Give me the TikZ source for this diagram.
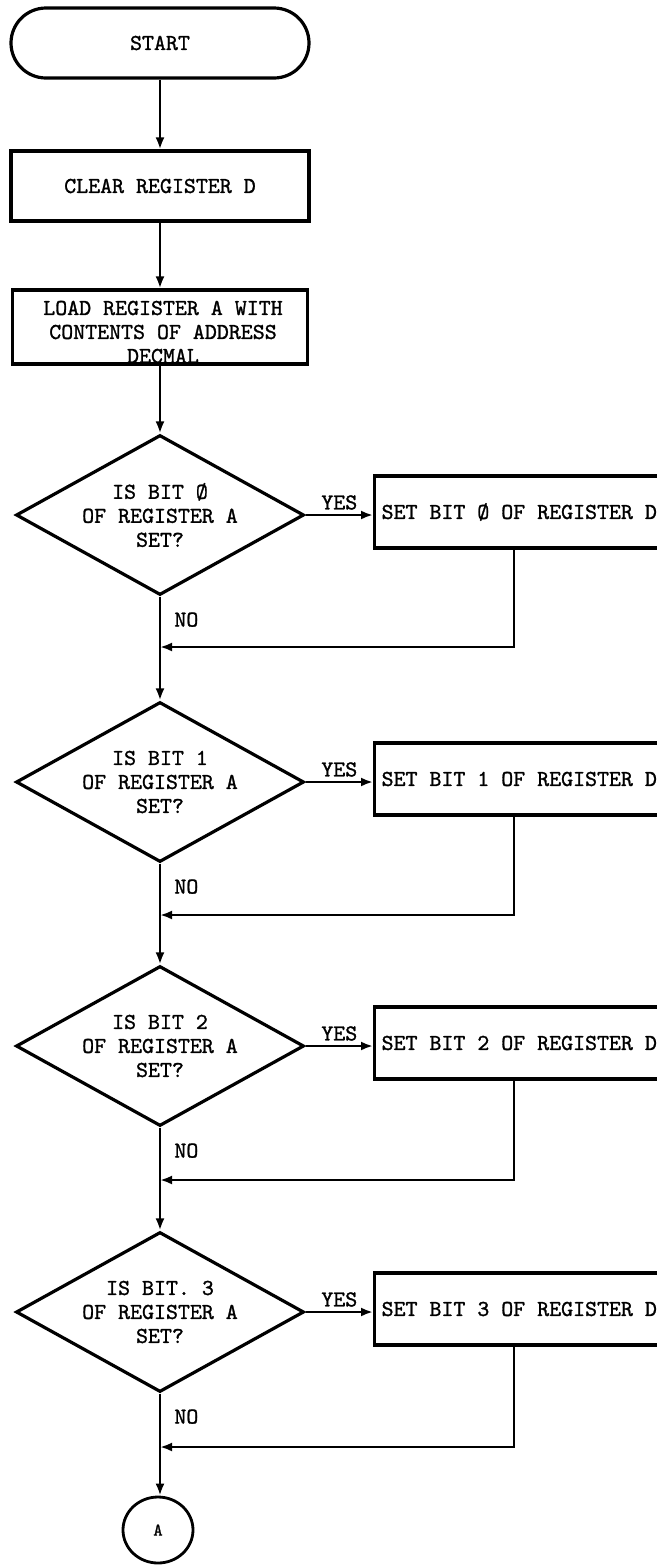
\documentclass[tikz,border=0pt]{standalone}
\usepackage{fontspec}
\newfontfamily\typewriter{lmmono10-regular.otf}[FakeBold=1.2]
\usepackage{tikz}
\usetikzlibrary{calc, shapes.geometric, arrows.meta}
\tikzset{
  flowtext/.style={font=\typewriter\fontsize{11.4}{12}\selectfont},
  terminal/.style={flowtext, draw, line width=1.6pt, rounded corners=17.5pt, minimum width=149pt, minimum height=35pt},
  procbox/.style={flowtext, draw, line width=1.6pt, minimum width=149pt, minimum height=35pt},
  decision/.style={flowtext, draw, diamond, line width=1.6pt, aspect=1.8, minimum width=144pt, minimum height=80pt, inner sep=0pt, align=center},
  setbox/.style={flowtext, draw, line width=1.6pt, anchor=west, minimum height=36pt, inner xsep=3.5pt},
  connector/.style={draw, ellipse, line width=1.4pt, minimum width=35pt, minimum height=33pt, font=\typewriter\fontsize{9}{10}\selectfont},
  flow/.style={line width=1.3pt, -{Latex[length=6pt, width=4.5pt]}},
  answer/.style={flowtext, inner sep=1pt},
}

\begin{document}
\begin{tikzpicture}[x=0.5pt, y=-0.5pt]
  \useasboundingbox (0,0) rectangle (657,1565);
  \clip (0,0) rectangle (657,1565);

  % top of the chart
  \node[terminal] (start) at (160,43) {START};
  \node[procbox] (clear) at (160,186) {CLEAR REGISTER D};
  \node[procbox, minimum width=147.5pt, minimum height=37pt] (load) at (160,327) {};
  \node[flowtext, align=center] (loadtext) at (163,332) {LOAD REGISTER A WITH\\CONTENTS OF ADDRESS\\DECMAL};

  \draw[flow] (start) -- (clear);
  \draw[flow] (clear) -- (load);

  % the four bit tests
  \foreach \i/\n/\y/\bit/\r in {0/Ø/515/IS BIT Ø/647, 1/1/782/IS BIT 1/915, 2/2/1046/IS BIT 2/1180, 3/3/1312/IS BIT. 3/1447} {
    \node[decision] (d\i) at (160,\y) {\bit\\OF REGISTER A\\SET?};
    \node[setbox] (s\i) at (373,\y-3) {\makebox[300pt][l]{SET BIT \n\ OF REGISTER D}};
    \coordinate (j\i) at (160,\r);
    \draw[flow] (d\i.east) -- (d\i.east -| s\i.west) node[answer, midway, above, yshift=1pt] {YES};
    \draw[flow] (514,0 |- s\i.south) |- (j\i);
    \node[answer, anchor=west] at ($(d\i.south)+(12,23)$) {NO};
  }

  % end connector
  \node[connector] (A) at (158,1530) {A};

  \draw[flow] (load) -- (d0);
  \draw[flow] (d0.south) -- (d1.north);
  \draw[flow] (d1.south) -- (d2.north);
  \draw[flow] (d2.south) -- (d3.north);
  \draw[flow] (d3.south) -- (d3.south |- A.north);
\end{tikzpicture}
\end{document}
